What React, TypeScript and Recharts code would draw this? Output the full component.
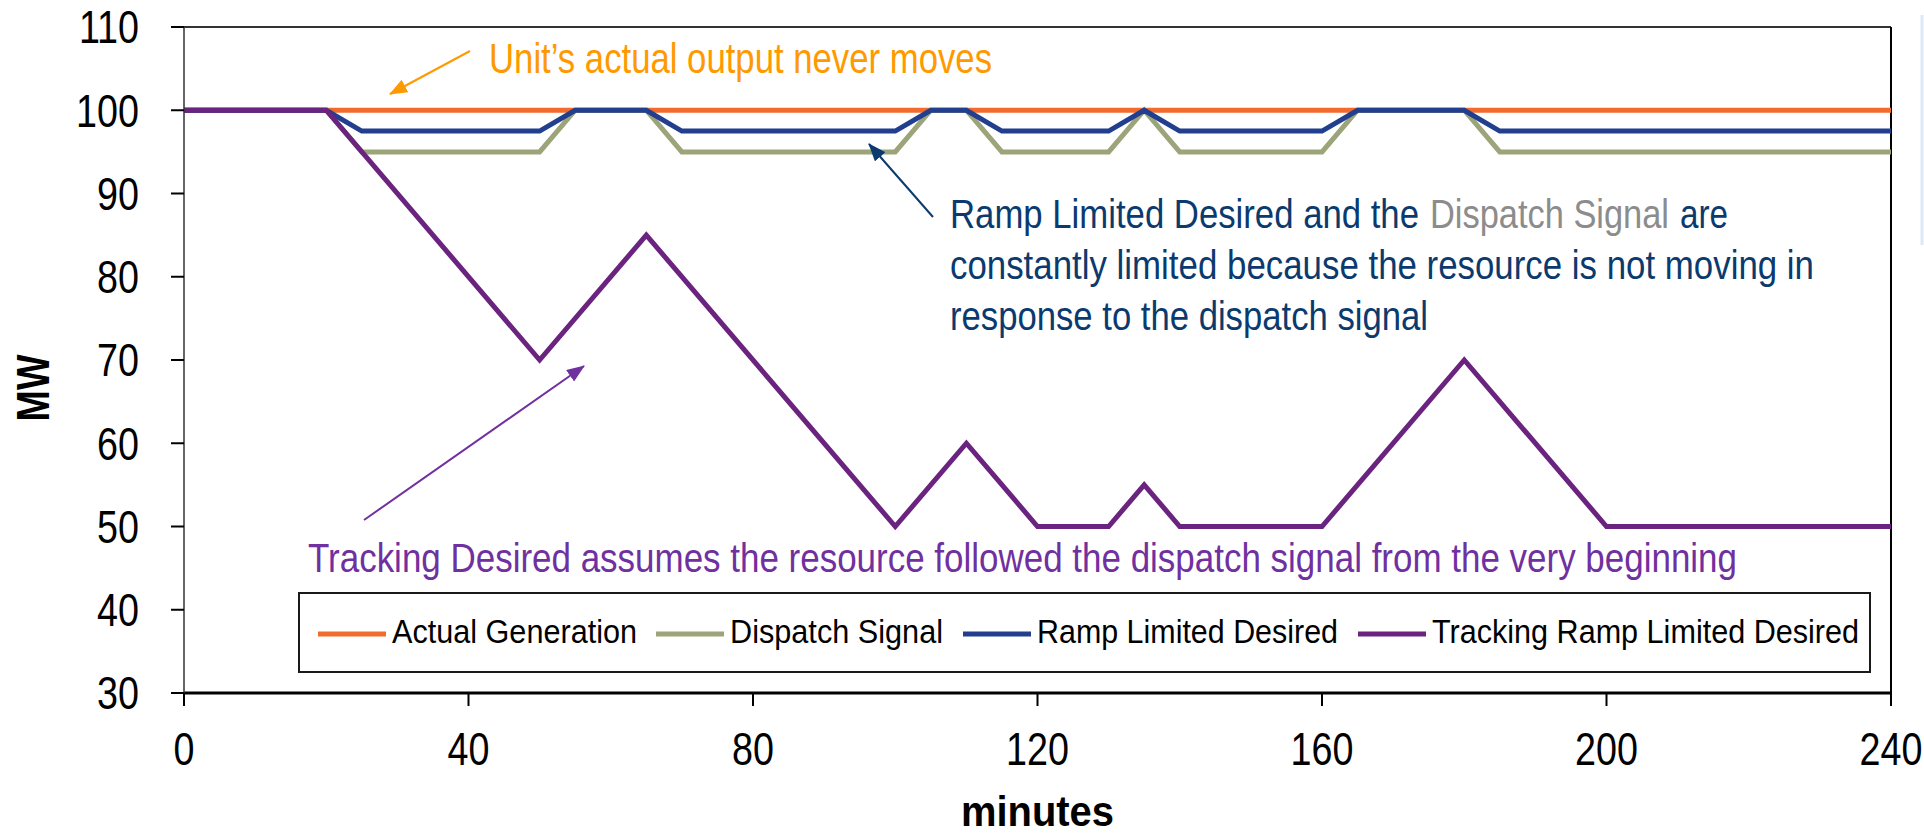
import { LineChart, Line, XAxis, YAxis, ReferenceLine, Legend } from "recharts";

// no narrow font installed, so Liberation Sans is squeezed horizontally
const FONT = "'Liberation Sans', Arial, sans-serif";
const SQUEEZE = 0.82;

const xTicks = [0, 40, 80, 120, 160, 200, 240];
const yTicks = [30, 40, 50, 60, 70, 80, 90, 100, 110];

const actualMinutes = [0, 240];
const actualMW = [100, 100];

const dispatchMinutes = [0, 20, 25, 50, 55, 65, 70, 100, 105, 110, 115, 130, 135, 140, 160, 165, 180, 185, 240];
const dispatchMW = [100, 100, 95, 95, 100, 100, 95, 95, 100, 100, 95, 95, 100, 95, 95, 100, 100, 95, 95];

const rampMinutes = [0, 20, 25, 50, 55, 65, 70, 100, 105, 110, 115, 130, 135, 140, 160, 165, 180, 185, 240];
const rampMW = [100, 100, 97.5, 97.5, 100, 100, 97.5, 97.5, 100, 100, 97.5, 97.5, 100, 97.5, 97.5, 100, 100, 97.5, 97.5];

const trackingMinutes = [0, 20, 50, 65, 100, 110, 120, 130, 135, 140, 160, 180, 200, 240];
const trackingMW = [100, 100, 70, 85, 50, 60, 50, 50, 55, 50, 50, 70, 50, 50];

const toPoints = (minutes: number[], mw: number[]) =>
  minutes.map((m, i) => ({ minute: m, mw: mw[i] }));

const series = [
  { name: "Actual Generation", color: "#F26A2C", data: toPoints(actualMinutes, actualMW) },
  { name: "Dispatch Signal", color: "#9CA479", data: toPoints(dispatchMinutes, dispatchMW) },
  { name: "Ramp Limited Desired", color: "#213F8E", data: toPoints(rampMinutes, rampMW) },
  { name: "Tracking Ramp Limited Desired", color: "#6A237E", data: toPoints(trackingMinutes, trackingMW) },
];

// legend slots: where each sample line starts and how wide each label is
const legendSampleX = [20, 358, 665, 1060];
const legendTextW = [245, 213, 301, 427];

function BoxLegend({ payload }: any) {
  const items = payload || [];
  return (
    <svg width={1573} height={81} style={{ display: "block" }}>
      <rect x={1} y={1} width={1571} height={79} fill="#fff" stroke="#1a1a1a" strokeWidth={2} />
      {items.map((entry: any, i: number) => (
        <g key={entry.value}>
          <line
            x1={legendSampleX[i]}
            x2={legendSampleX[i] + 68}
            y1={42}
            y2={42}
            stroke={entry.color}
            strokeWidth={5}
          />
          <text
            x={legendSampleX[i] + 74}
            y={51}
            fontFamily={FONT}
            fontSize={34}
            fill="#000"
            textLength={legendTextW[i]}
            lengthAdjust="spacingAndGlyphs"
          >
            {entry.value}
          </text>
        </g>
      ))}
    </svg>
  );
}

function YTick({ x, y, payload }: any) {
  return (
    <text
      transform={`translate(${x} ${y}) scale(${SQUEEZE} 1)`}
      textAnchor="end"
      dy="0.355em"
      fontFamily={FONT}
      fontSize={46}
      fill="#000"
    >
      {payload.value}
    </text>
  );
}

function XTick({ x, y, payload }: any) {
  return (
    <text
      transform={`translate(${x} ${y}) scale(${SQUEEZE} 1)`}
      textAnchor="middle"
      dy="0.71em"
      fontFamily={FONT}
      fontSize={46}
      fill="#000"
    >
      {payload.value}
    </text>
  );
}

function MWTitle({ viewBox }: any) {
  const x = viewBox.x + 33;
  const y = viewBox.y + viewBox.height / 2 + 28;
  return (
    <text
      x={x}
      y={y}
      transform={`rotate(-90 ${x} ${y})`}
      textAnchor="middle"
      dominantBaseline="central"
      fontFamily={FONT}
      fontWeight="bold"
      fontSize={46}
      fill="#000"
      textLength={67}
      lengthAdjust="spacingAndGlyphs"
    >
      MW
    </text>
  );
}

function MinutesTitle({ viewBox }: any) {
  return (
    <text
      x={viewBox.x + viewBox.width / 2}
      y={826}
      textAnchor="middle"
      fontFamily={FONT}
      fontWeight="bold"
      fontSize={42}
      fill="#000"
      textLength={153}
      lengthAdjust="spacingAndGlyphs"
    >
      minutes
    </text>
  );
}

function Annotations() {
  const fit = { lengthAdjust: "spacingAndGlyphs" as const, fontFamily: FONT };
  return (
    <svg
      width={1924}
      height={833}
      style={{ position: "absolute", left: 0, top: 0, pointerEvents: "none" }}
    >
      <defs>
        {[
          ["arrow-orange", "#FF9900"],
          ["arrow-navy", "#0B3A6E"],
          ["arrow-purple", "#7030A0"],
        ].map(([id, c]) => (
          <marker
            key={id}
            id={id}
            markerUnits="userSpaceOnUse"
            markerWidth={18}
            markerHeight={14}
            refX={17}
            refY={7}
            orient="auto"
          >
            <path d="M0,0 L18,7 L0,14 Z" fill={c} />
          </marker>
        ))}
      </defs>
      {/* faint slide edge on the far right */}
      <line x1={1922} y1={15} x2={1922} y2={245} stroke="#DCE8F6" strokeWidth={3} />

      <line x1={470} y1={51} x2={390} y2={94} stroke="#FF9900" strokeWidth={2} markerEnd="url(#arrow-orange)" />
      <text x={489} y={73} fontSize={42} fill="#FF9900" textLength={503} {...fit}>
        Unit’s actual output never moves
      </text>

      <line x1={933} y1={217} x2={869} y2={144} stroke="#0B3A6E" strokeWidth={2} markerEnd="url(#arrow-navy)" />
      <text x={950} y={228} fontSize={40} fill="#0B3A6E" textLength={469} {...fit}>
        Ramp Limited Desired and the
      </text>
      <text x={1430} y={228} fontSize={40} fill="#8C8C8C" textLength={239} {...fit}>
        Dispatch Signal
      </text>
      <text x={1680} y={228} fontSize={40} fill="#0B3A6E" textLength={48} {...fit}>
        are
      </text>
      <text x={950} y={279} fontSize={40} fill="#0B3A6E" textLength={864} {...fit}>
        constantly limited because the resource is not moving in
      </text>
      <text x={950} y={330} fontSize={40} fill="#0B3A6E" textLength={478} {...fit}>
        response to the dispatch signal
      </text>

      <line x1={364} y1={520} x2={584} y2={366} stroke="#7030A0" strokeWidth={2} markerEnd="url(#arrow-purple)" />
      <text x={308} y={572} fontSize={40} fill="#7030A0" textLength={1429} {...fit}>
        Tracking Desired assumes the resource followed the dispatch signal from the very beginning
      </text>
    </svg>
  );
}

export default function App() {
  return (
    <div style={{ position: "absolute", left: 0, top: 0, width: 1924, height: 833, background: "#fff" }}>
      <LineChart
        width={1924}
        height={833}
        margin={{ top: 27, right: 33, left: 0, bottom: 0 }}
      >
        <XAxis
          dataKey="minute"
          type="number"
          domain={[0, 240]}
          ticks={xTicks}
          interval={0}
          height={140}
          tickSize={13}
          tickMargin={26}
          axisLine={{ stroke: "#000", strokeWidth: 3 }}
          tickLine={{ stroke: "#000", strokeWidth: 2 }}
          tick={<XTick />}
          label={<MinutesTitle />}
        />
        <YAxis
          type="number"
          domain={[30, 110]}
          ticks={yTicks}
          interval={0}
          width={184}
          tickSize={13}
          tickMargin={32}
          axisLine={{ stroke: "#333", strokeWidth: 1.5 }}
          tickLine={{ stroke: "#000", strokeWidth: 2 }}
          tick={<YTick />}
          label={<MWTitle />}
        />
        <ReferenceLine y={110} stroke="#333" strokeWidth={2} />
        <ReferenceLine x={240} stroke="#000" strokeWidth={2} />
        <Legend
          layout="vertical"
          align="center"
          verticalAlign="middle"
          wrapperStyle={{ left: 298, top: 592, width: 1573, height: 81 }}
          content={<BoxLegend />}
        />
        {series.map((s) => (
          <Line
            key={s.name}
            data={s.data}
            dataKey="mw"
            name={s.name}
            type="linear"
            stroke={s.color}
            strokeWidth={5}
            dot={false}
            activeDot={false}
            isAnimationActive={false}
          />
        ))}
      </LineChart>
      <Annotations />
    </div>
  );
}
